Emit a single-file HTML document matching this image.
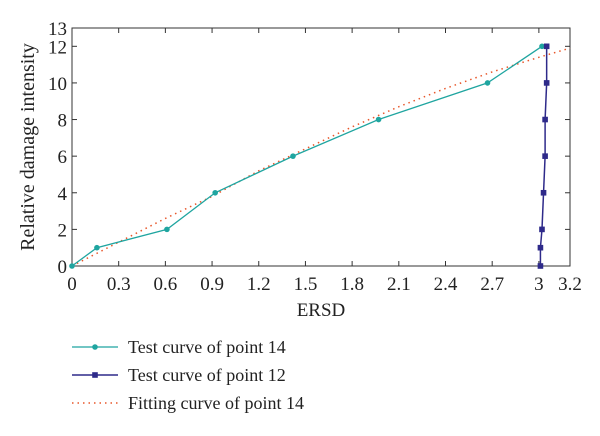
<!DOCTYPE html>
<html><head><meta charset="utf-8"><style>
body{margin:0;background:#fff;}
svg text{font-family:"Liberation Serif",serif;fill:#222;}
</style></head><body>
<svg width="600" height="431" xmlns="http://www.w3.org/2000/svg">
<g id="g"></g>
</svg>
<script>
const xTicks=[0,0.3,0.6,0.9,1.2,1.5,1.8,2.1,2.4,2.7,3,3.2];
const xTickLabels=["0","0.3","0.6","0.9","1.2","1.5","1.8","2.1","2.4","2.7","3","3.2"];
const yTicks=[0,2,4,6,8,10,12,13];
const yTickLabels=["0","2","4","6","8","10","12","13"];
const p14x=[0,0.16,0.61,0.92,1.42,1.97,2.67,3.02];
const p14y=[0,1,2,4,6,8,10,12];
const p12x=[3.01,3.01,3.02,3.03,3.04,3.04,3.05,3.05];
const p12y=[0,1,2,4,6,8,10,12];
const fitX=[0,0.3,0.6,0.9,1.2,1.5,1.8,2.1,2.4,2.7,3.0,3.2];
const fitY=[0,1.3,2.6,3.8,5.2,6.4,7.6,8.7,9.7,10.6,11.4,11.9];

const L=72,R=570,T=28,B=266;
const X=v=>L+v/3.2*(R-L), Y=v=>B-v/13*(B-T);
const g=document.getElementById('g');const NS='http://www.w3.org/2000/svg';
function el(t,a,txt){const e=document.createElementNS(NS,t);for(const k in a)e.setAttribute(k,a[k]);if(txt!=null)e.textContent=txt;g.appendChild(e);return e;}
let e=el('rect',{x:L,y:T,width:R-L,height:B-T,fill:'none',stroke:'#333','stroke-width':1});


xTicks.forEach((v,i)=>{
 e=el('line',{x1:X(v),x2:X(v),y1:B,y2:B-5,stroke:'#333'});
 
 
 el('line',{x1:X(v),x2:X(v),y1:T,y2:T+5,stroke:'#333'});
 e=el('text',{x:X(v),y:B+24,'text-anchor':'middle','font-size':19},xTickLabels[i]);
 
 
});
yTicks.forEach((v,i)=>{
 e=el('line',{x1:L,x2:L+5,y1:Y(v),y2:Y(v),stroke:'#333'});
 
 
 el('line',{x1:R,x2:R-5,y1:Y(v),y2:Y(v),stroke:'#333'});
 e=el('text',{x:L-5,y:Y(v)+7,'text-anchor':'end','font-size':19},yTickLabels[i]);
 
 
});
e=el('text',{x:(L+R)/2,y:316,'text-anchor':'middle','font-size':19},'ERSD');


e=el('text',{x:0,y:0,'text-anchor':'middle','font-size':20,transform:`translate(34,${(T+B)/2}) rotate(-90)`},'Relative damage intensity');


e=el('polyline',{points:fitX.map((v,i)=>X(v)+','+Y(fitY[i])).join(' '),fill:'none',stroke:'#e8562a','stroke-width':1.5,'stroke-dasharray':'1.5 4'});


e=el('polyline',{points:p14x.map((v,i)=>X(v)+','+Y(p14y[i])).join(' '),fill:'none',stroke:'#1fa5a0','stroke-width':1.3});


p14x.forEach((v,i)=>{e=el('circle',{cx:X(v),cy:Y(p14y[i]),r:2.8,fill:'#1fa5a0'});
 
 });
e=el('polyline',{points:p12x.map((v,i)=>X(v)+','+Y(p12y[i])).join(' '),fill:'none',stroke:'#2e2a8a','stroke-width':1.5});


p12x.forEach((v,i)=>{e=el('rect',{x:X(v)-2.8,y:Y(p12y[i])-2.8,width:5.6,height:5.6,fill:'#2e2a8a'});
 
 });
const ly=[347,375,403];
e=el('line',{x1:72,x2:118,y1:ly[0],y2:ly[0],stroke:'#1fa5a0','stroke-width':1.3});


el('circle',{cx:95,cy:ly[0],r:2.8,fill:'#1fa5a0'});
e=el('line',{x1:72,x2:118,y1:ly[1],y2:ly[1],stroke:'#2e2a8a','stroke-width':1.5});


el('rect',{x:92.2,y:ly[1]-2.8,width:5.6,height:5.6,fill:'#2e2a8a'});
e=el('line',{x1:72,x2:118,y1:ly[2],y2:ly[2],stroke:'#e8562a','stroke-width':1.5,'stroke-dasharray':'1.5 4'});


['Test curve of point 14','Test curve of point 12','Fitting curve of point 14'].forEach((t,i)=>{
 e=el('text',{x:128,y:ly[i]+6,'font-size':18},t);
 
 
});
</script>
</body></html>
